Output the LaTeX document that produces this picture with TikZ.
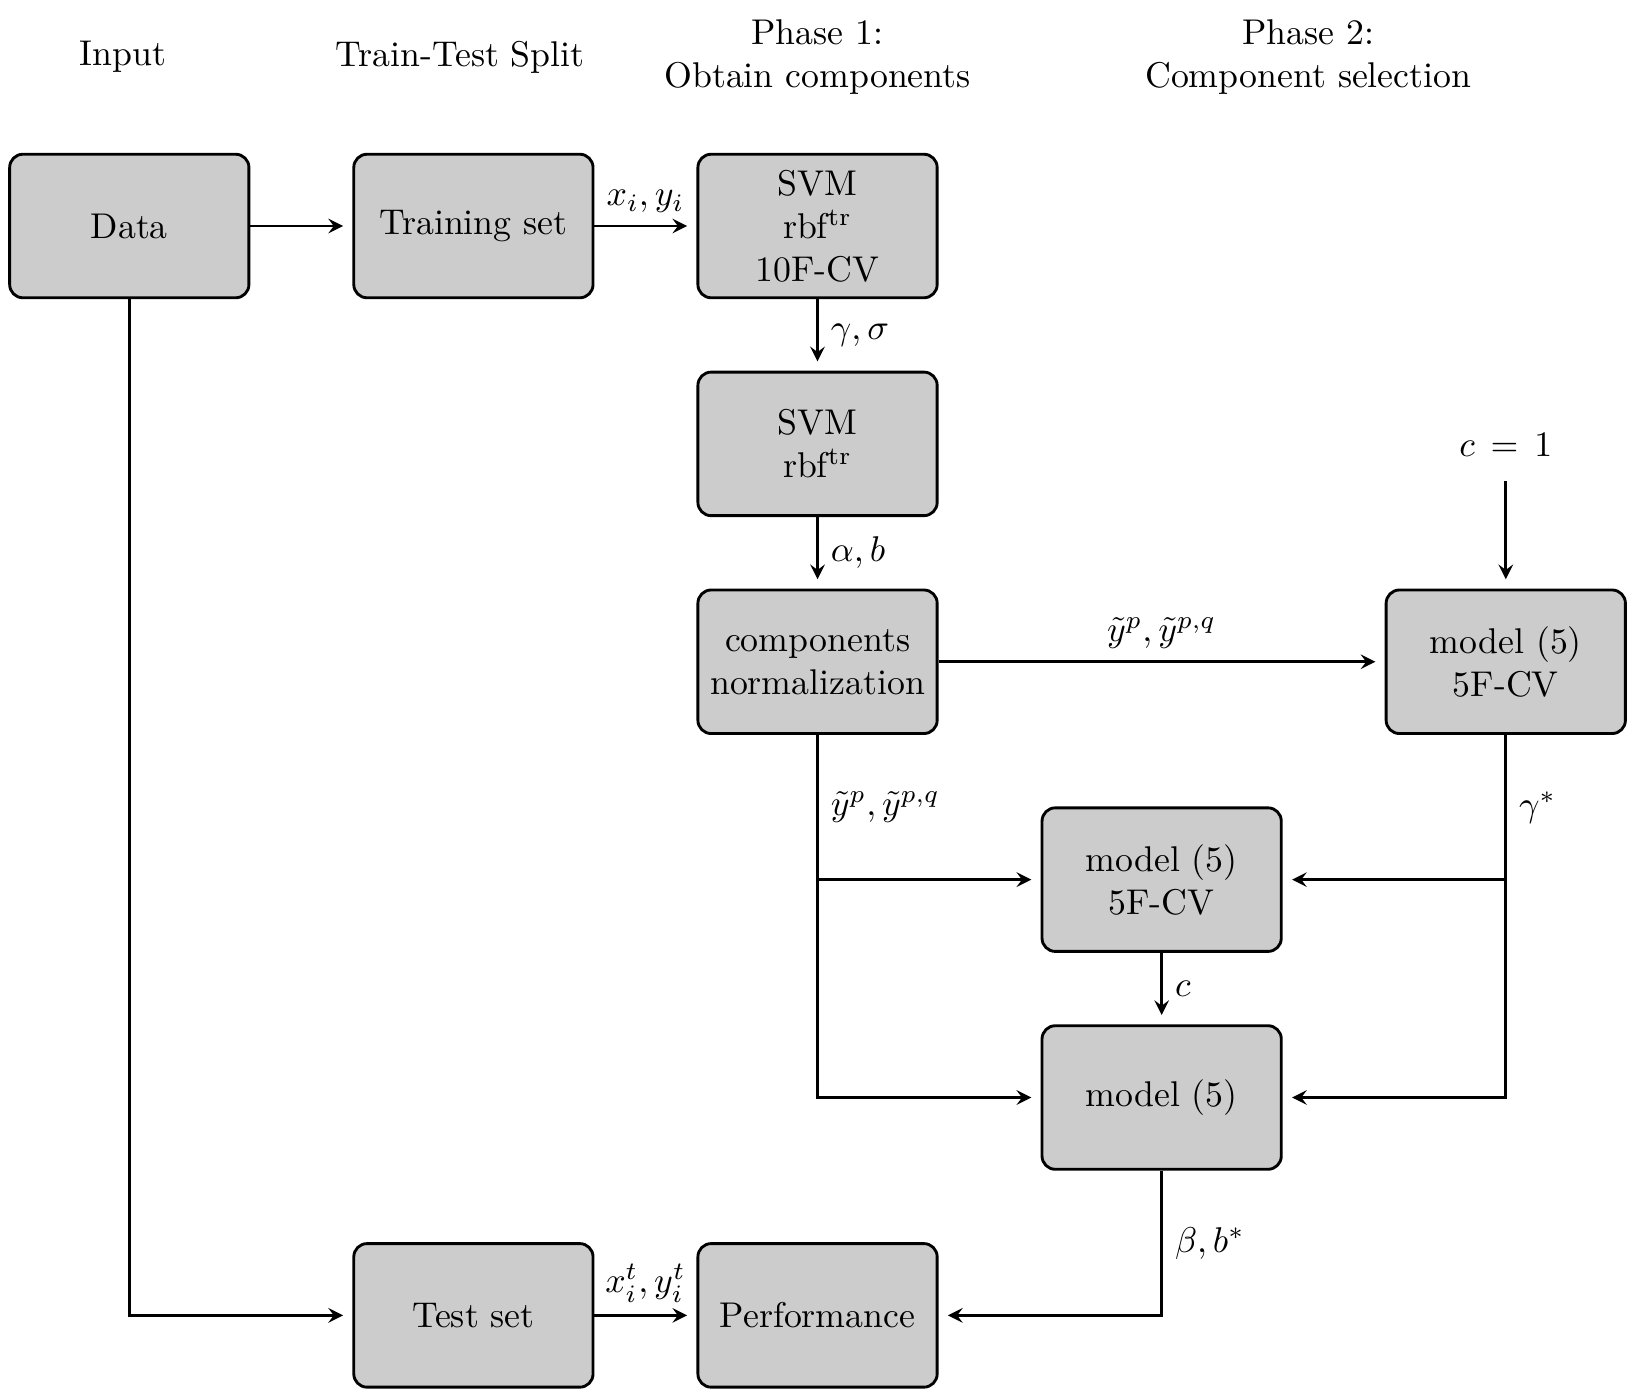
\documentclass[tikz,border=0pt]{standalone}
\usepackage{amsmath}

\begin{document}
\begin{tikzpicture}[
        box/.style={draw, thick, rounded corners=0.13cm, fill=gray!40, minimum width=2.35cm, minimum height=1.41cm, align=center},
        arr/.style={thick, ->, >=stealth, shorten >=2.6pt},
        line/.style={thick}
    ]
    \useasboundingbox (0,0) rectangle (16.03,-13.69);

    % Column titles
    \node (hin) at (1.21,-0.56) {Input};
    \node (hsplit) at (4.52,-0.56) {Train-Test Split};
    \node[align=center] (hone) at (8.03,-0.56) {Phase 1:\\Obtain components};
    \node[align=center] (htwo) at (12.85,-0.56) {Phase 2:\\Component selection};

    % Boxes
    \node[box] (data) at (1.27,-2.22) {Data};
    \node[box] (train) at (4.65,-2.22) {Training set};
    \node[box] (svma) at (8.03,-2.22) {SVM\\rbf$^{\mathrm{tr}}$\\10F-CV};
    \node[box] (svmb) at (8.03,-4.36) {SVM\\rbf$^{\mathrm{tr}}$};
    \node[box] (norm) at (8.03,-6.50) {components\\normalization};
    \node[box] (modcv) at (14.79,-6.50) {model (5)\\5F-CV};
    \node[box] (selcv) at (11.41,-8.64) {model (5)\\5F-CV};
    \node[box] (fit) at (11.41,-10.78) {model (5)};
    \node[box] (test) at (4.65,-12.92) {Test set};
    \node[box] (perf) at (8.03,-12.92) {Performance};
    \node[minimum height=0.7cm] (cone) at (14.79,-4.37) {$c \, = \, 1$};

    % Phase 1
    \draw[arr] (data) -- (train);
    \draw[arr] (train) -- node[above] {$x_i, y_i$} (svma);
    \draw[arr] (svma) -- node[right] {$\gamma, \sigma$} (svmb);
    \draw[arr] (svmb) -- node[right] {$\alpha, b$} (norm);

    % Phase 2
    \draw[arr] (norm) -- node[above] {$\tilde{y}^p, \tilde{y}^{p,q}$} (modcv);
    \draw[arr] (cone) -- (modcv);
    \draw[line] (norm.south) -- node[right] {$\tilde{y}^p, \tilde{y}^{p,q}$} (norm.south |- selcv.west);
    \draw[arr] (norm.south |- selcv.west) -- (selcv.west);
    \draw[arr] (norm.south) |- (fit.west);
    \draw[line] (modcv.south) -- node[right] {$\gamma^*$} (modcv.south |- selcv.east);
    \draw[arr] (modcv.south |- selcv.east) -- (selcv.east);
    \draw[arr] (modcv.south) |- (fit.east);
    \draw[arr] (selcv) -- node[right] {$c$} (fit);

    % Test
    \draw[arr] (fit.south) |- node[right, pos=0.25] {$\beta, b^*$} (perf.east);
    \draw[arr] (data.south) |- (test.west);
    \draw[arr] (test) -- node[above] {$x_i^t, y_i^t$} (perf);
\end{tikzpicture}
\end{document}
